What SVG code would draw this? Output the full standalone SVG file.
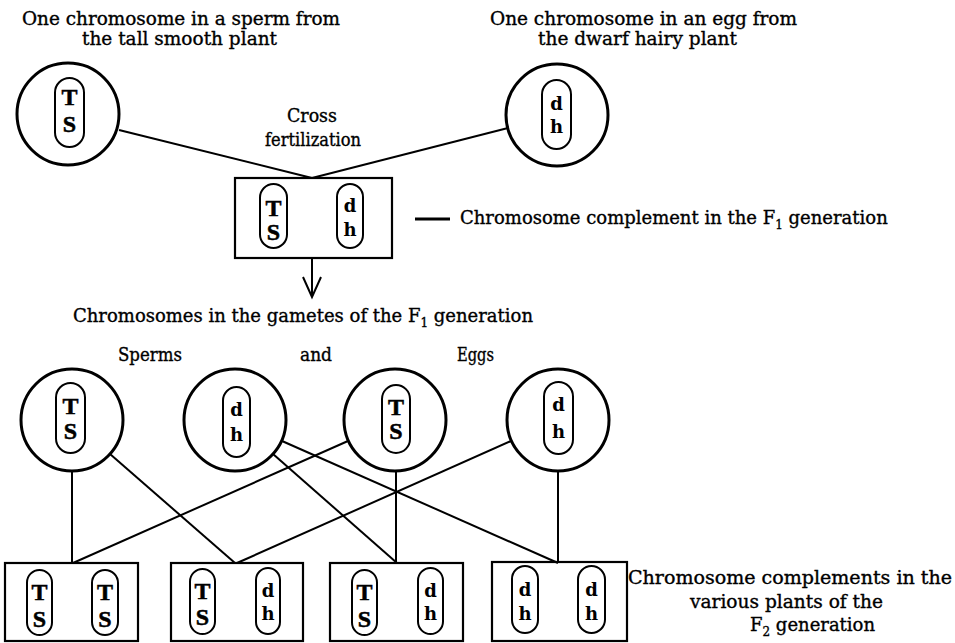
<svg xmlns="http://www.w3.org/2000/svg" width="955" height="643" viewBox="0 0 955 643">
<style>
.lbl{font-family:"DejaVu Serif","Liberation Serif",serif;font-size:18px;fill:#000;stroke:#000;stroke-width:0.35}
.circ{fill:none;stroke:#000;stroke-width:3}
.box{fill:none;stroke:#000;stroke-width:2.2}
.cap{fill:none;stroke:#000;stroke-width:2}
.big{font-family:"Liberation Serif",serif;font-weight:bold;font-size:24px;text-anchor:middle;fill:#000;stroke:#000;stroke-width:0.5}
.sm{font-family:"DejaVu Serif","Liberation Serif",serif;font-weight:bold;font-size:18px;text-anchor:middle;fill:#000}
.con line,.con polyline{stroke:#000;stroke-width:2;fill:none}
.sub{font-size:12px}
</style>
<rect width="955" height="643" fill="#fff"/>

<!-- labels -->
<g id="labels">
<text class="lbl" x="22" y="25" textLength="318" lengthAdjust="spacingAndGlyphs">One chromosome in a sperm from</text>
<text class="lbl" x="82" y="45" textLength="195" lengthAdjust="spacingAndGlyphs">the tall smooth plant</text>
<text class="lbl" x="490" y="25" textLength="307" lengthAdjust="spacingAndGlyphs">One chromosome in an egg from</text>
<text class="lbl" x="538" y="45" textLength="199" lengthAdjust="spacingAndGlyphs">the dwarf hairy plant</text>
<text class="lbl" x="287" y="122" textLength="50" lengthAdjust="spacingAndGlyphs">Cross</text>
<text class="lbl" x="265" y="146" textLength="96" lengthAdjust="spacingAndGlyphs">fertilization</text>
<text class="lbl" x="460" y="224">Chromosome complement in the F<tspan class="sub" dy="5">1</tspan><tspan dy="-5"> generation</tspan></text>
<text class="lbl" x="73" y="322">Chromosomes in the gametes of the F<tspan class="sub" dy="5">1</tspan><tspan dy="-5"> generation</tspan></text>
<text class="lbl" x="118" y="361" textLength="64" lengthAdjust="spacingAndGlyphs">Sperms</text>
<text class="lbl" x="300" y="361" textLength="32" lengthAdjust="spacingAndGlyphs">and</text>
<text class="lbl" x="457" y="361" textLength="37" lengthAdjust="spacingAndGlyphs">Eggs</text>
<text class="lbl" x="628" y="584" textLength="324" lengthAdjust="spacingAndGlyphs">Chromosome complements in the</text>
<text class="lbl" x="690" y="608" textLength="193" lengthAdjust="spacingAndGlyphs">various plants of the</text>
<text class="lbl" x="750" y="631">F<tspan class="sub" dy="5">2</tspan><tspan dy="-5">  generation</tspan></text>
</g>

<!-- connectors -->
<g id="connectors" class="con">
<line x1="119" y1="130" x2="312" y2="178"/>
<line x1="508" y1="128" x2="312" y2="178"/>
<line x1="312" y1="258" x2="312" y2="297"/>
<polyline points="303,277 312,297 321,277"/>
<line x1="415" y1="219" x2="450" y2="219" style="stroke-width:3"/>
<line x1="72" y1="471" x2="72" y2="563"/>
<line x1="110" y1="454" x2="235" y2="563"/>
<line x1="273" y1="454" x2="397" y2="563"/>
<line x1="282" y1="441" x2="558" y2="563"/>
<line x1="348" y1="441" x2="73" y2="563"/>
<line x1="396" y1="471" x2="396" y2="563"/>
<line x1="511" y1="441" x2="237" y2="563"/>
<line x1="558" y1="471" x2="558" y2="563"/>
</g>

<!-- top circles -->
<g id="sperm-P">
<circle class="circ" cx="68" cy="114" r="51"/>
<rect class="cap" x="55" y="78" width="29" height="69" rx="14.5"/>
<text class="big" x="69.5" y="105">T</text>
<text class="big" x="69.5" y="132">S</text>
</g>
<g id="egg-P">
<circle class="circ" cx="557" cy="115" r="51"/>
<rect class="cap" x="542" y="80" width="29" height="69" rx="14.5"/>
<text class="sm" x="556.5" y="110">d</text>
<text class="sm" x="556.5" y="133">h</text>
</g>

<!-- F1 box -->
<g id="F1">
<rect class="box" x="235" y="178" width="157" height="80"/>
<rect class="cap" x="260" y="184" width="27" height="64" rx="13.5"/>
<text class="big" x="273.5" y="216">T</text>
<text class="big" x="273.5" y="240">S</text>
<rect class="cap" x="337" y="184" width="26" height="64" rx="13"/>
<text class="sm" x="350" y="212">d</text>
<text class="sm" x="350" y="236">h</text>
</g>

<!-- gametes -->
<g id="gamete-1">
<circle class="circ" cx="72" cy="420" r="51"/>
<rect class="cap" x="56" y="383" width="29" height="70" rx="14.5"/>
<text class="big" x="70.5" y="414">T</text>
<text class="big" x="70.5" y="439">S</text>
</g>
<g id="gamete-2">
<circle class="circ" cx="235" cy="420" r="51"/>
<rect class="cap" x="223" y="387" width="27" height="70" rx="13.5"/>
<text class="sm" x="236.5" y="416">d</text>
<text class="sm" x="236.5" y="441">h</text>
</g>
<g id="gamete-3">
<circle class="circ" cx="395" cy="420" r="51"/>
<rect class="cap" x="382" y="385" width="28" height="68" rx="14"/>
<text class="big" x="396" y="415">T</text>
<text class="big" x="396" y="439">S</text>
</g>
<g id="gamete-4">
<circle class="circ" cx="558" cy="420" r="51"/>
<rect class="cap" x="544" y="382" width="29" height="72" rx="14.5"/>
<text class="sm" x="558.5" y="411">d</text>
<text class="sm" x="558.5" y="438">h</text>
</g>

<!-- F2 boxes -->
<g id="F2-1">
<rect class="box" x="5" y="563" width="133" height="78"/>
<rect class="cap" x="27" y="570" width="25" height="65" rx="12.5"/>
<text class="big" x="39.5" y="600">T</text>
<text class="big" x="39.5" y="627">S</text>
<rect class="cap" x="92" y="570" width="26" height="65" rx="13"/>
<text class="big" x="105" y="600">T</text>
<text class="big" x="105" y="627">S</text>
</g>
<g id="F2-2">
<rect class="box" x="171" y="563" width="132" height="78"/>
<rect class="cap" x="190" y="569" width="25" height="65" rx="12.5"/>
<text class="big" x="202.5" y="599">T</text>
<text class="big" x="202.5" y="625">S</text>
<rect class="cap" x="256" y="568" width="24" height="66" rx="12"/>
<text class="sm" x="268" y="597">d</text>
<text class="sm" x="268" y="620">h</text>
</g>
<g id="F2-3">
<rect class="box" x="330" y="563" width="133" height="78"/>
<rect class="cap" x="352" y="570" width="25" height="65" rx="12.5"/>
<text class="big" x="364.5" y="600">T</text>
<text class="big" x="364.5" y="627">S</text>
<rect class="cap" x="418" y="568" width="25" height="66" rx="12.5"/>
<text class="sm" x="430.5" y="597">d</text>
<text class="sm" x="430.5" y="620">h</text>
</g>
<g id="F2-4">
<rect class="box" x="492" y="562" width="135" height="79"/>
<rect class="cap" x="512" y="566" width="26" height="67" rx="13"/>
<text class="sm" x="525" y="596">d</text>
<text class="sm" x="525" y="620">h</text>
<rect class="cap" x="578" y="566" width="27" height="67" rx="13.5"/>
<text class="sm" x="591.5" y="596">d</text>
<text class="sm" x="591.5" y="620">h</text>
</g>
</svg>
